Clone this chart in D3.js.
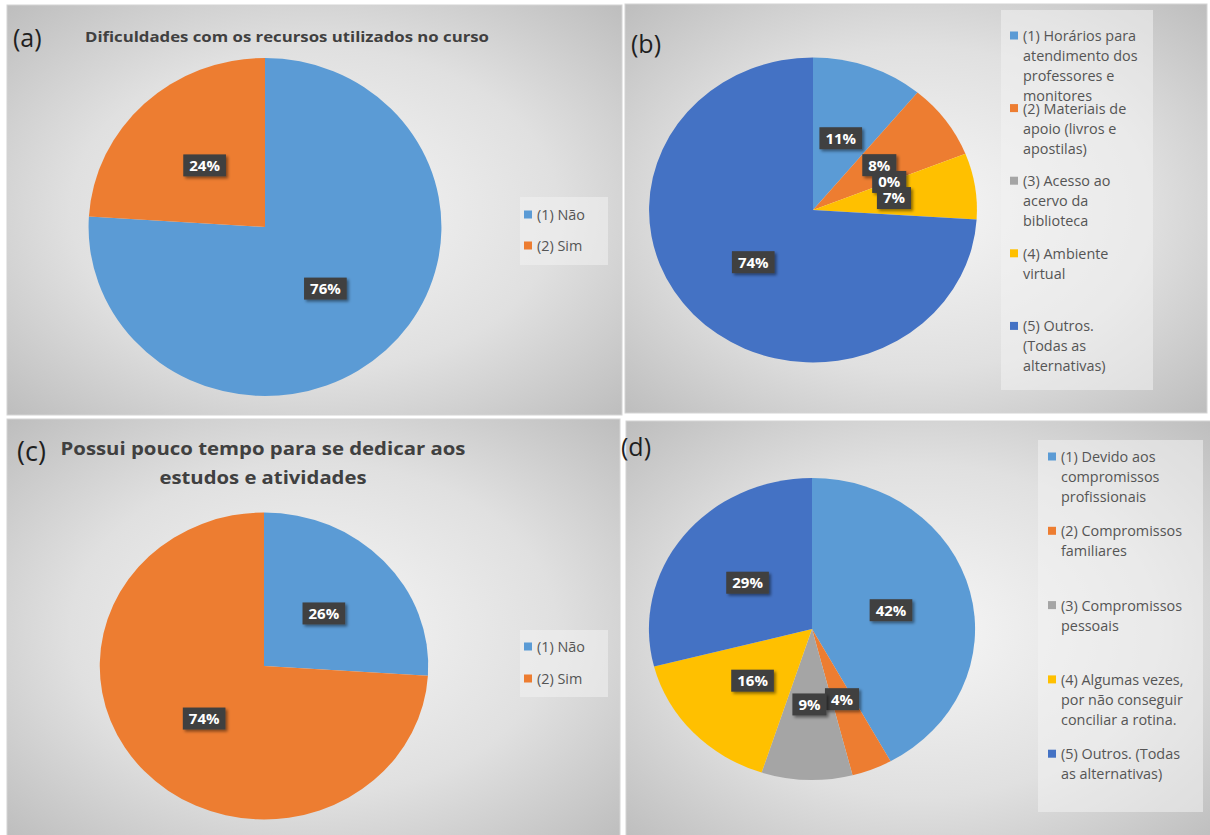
<!DOCTYPE html>
<html>
<head>
<meta charset="utf-8">
<script src="https://cdn.jsdelivr.net/npm/d3@7"></script>
<style>
  body { margin: 0; background: #fff; }
  svg { display: block; }
  text { font-family: "Open Sans", Lato, sans-serif; }
</style>
</head>
<body>
<svg id="chart"></svg>
<script>
// cores padrao do Excel
var cores = ["#5B9BD5", "#ED7D31", "#A5A5A5", "#FFC000", "#4472C4"];

// (a) Dificuldades com os recursos
var catA = ["(1) Não", "(2) Sim"];
var valA = [76, 24];

// (b) quais recursos
var catB = ["(1) Horários para\natendimento dos\nprofessores e\nmonitores",
            "(2) Materiais de\napoio (livros e\napostilas)",
            "(3) Acesso ao\nacervo da\nbiblioteca",
            "(4) Ambiente\nvirtual",
            "(5) Outros.\n(Todas as\nalternativas)"];
var valB = [11, 8, 0, 7, 74];

// (c) pouco tempo
var catC = ["(1) Não", "(2) Sim"];
var valC = [26, 74];

// (d) motivos
var catD = ["(1) Devido aos\ncompromissos\nprofissionais",
            "(2) Compromissos\nfamiliares",
            "(3) Compromissos\npessoais",
            "(4) Algumas vezes,\npor não conseguir\nconciliar a rotina.",
            "(5) Outros. (Todas\nas alternativas)"];
var valD = [42, 4, 9, 16, 29];

var tags = ["(a)", "(b)", "(c)", "(d)"];
var tituloA = "Dificuldades com os recursos utilizados no curso";
var tituloC = ["Possui pouco tempo para se dedicar aos", "estudos e atividades"];

var svg = d3.select("#chart").attr("width", 1210).attr("height", 835);

var defs = svg.append("defs");
var grad = defs.append("radialGradient").attr("id", "fundo")
  .attr("cx", "50%").attr("cy", "50%").attr("r", "72%");
grad.append("stop").attr("offset", "0%").attr("stop-color", "#f6f6f6");
grad.append("stop").attr("offset", "55%").attr("stop-color", "#e0e0e0");
grad.append("stop").attr("offset", "100%").attr("stop-color", "#bcbcbc");

defs.append("filter").attr("id", "sombra")
  .attr("x", "-30%").attr("y", "-30%").attr("width", "160%").attr("height", "160%")
  .append("feDropShadow").attr("dx", 2).attr("dy", 2).attr("stdDeviation", 1.5)
  .attr("flood-color", "#000").attr("flood-opacity", 0.45);

var paineis = [
  { x: 7, y: 5, w: 615, h: 410, cats: catA, vals: valA, cx: 265, cy: 227, r: 169, sx: 1.044,
    leg: { x: 520, y: 197, w: 88, h: 68, first: 215, slot: 31, tx: 537 } },
  { x: 625, y: 4, w: 582, h: 409, cats: catB, vals: valB, cx: 813, cy: 210, r: 152.5, sx: 1.075,
    leg: { x: 1001, y: 10, w: 152, h: 380, first: 36, slot: 72.6, tx: 1023 } },
  { x: 7, y: 419, w: 613, h: 420, cats: catC, vals: valC, cx: 264, cy: 666, r: 153.5, sx: 1.07,
    leg: { x: 520, y: 630, w: 88, h: 67, first: 647, slot: 32, tx: 537 } },
  { x: 626, y: 421, w: 590, h: 420, cats: catD, vals: valD, cx: 812, cy: 629, r: 151, sx: 1.08,
    leg: { x: 1038, y: 440, w: 165, h: 372, first: 457, slot: 74.3, tx: 1061 } }
];

var pie = d3.pie().sort(null).value(function(d) { return d; });

paineis.forEach(function(p, k) {
  svg.append("rect")
    .attr("x", p.x).attr("y", p.y).attr("width", p.w).attr("height", p.h)
    .attr("fill", "url(#fundo)").attr("stroke", "#d4d4d4").attr("stroke-width", 1);

  var arc = d3.arc().innerRadius(0).outerRadius(p.r);
  var arcs = pie(p.vals);

  var g = svg.append("g").attr("transform", "translate(" + p.cx + "," + p.cy + ")");
  g.append("g").attr("transform", "scale(" + p.sx + ",1)")
    .selectAll("path").data(arcs).join("path")
    .attr("d", arc)
    .attr("fill", function(d, i) { return cores[i]; });

  // rotulos de dados
  arcs.forEach(function(d) {
    var c = arc.centroid(d);
    var lb = g.append("g").attr("transform", "translate(" + (c[0] * p.sx) + "," + c[1] + ")");
    var bx = lb.append("rect").attr("fill", "#404040").attr("filter", "url(#sombra)");
    var t = lb.append("text")
      .attr("text-anchor", "middle").attr("dy", "0.36em")
      .attr("fill", "#fff").attr("font-weight", "bold").attr("font-size", 15)
      .text(d.data + "%");
    var w = t.node().getComputedTextLength() + 12;
    bx.attr("x", -w / 2).attr("y", -11).attr("width", w).attr("height", 22);
  });

  // legenda
  var L = p.leg;
  svg.append("rect").attr("x", L.x).attr("y", L.y).attr("width", L.w).attr("height", L.h)
    .attr("fill", "#f2f2f2").attr("fill-opacity", 0.55);
  var ly = d3.scaleLinear().domain([0, 1]).range([L.first, L.first + L.slot]);
  p.cats.forEach(function(cat, i) {
    var y0 = ly(i);
    svg.append("rect").attr("x", L.tx - 13).attr("y", y0 - 4.5)
      .attr("width", 8).attr("height", 8).attr("fill", cores[i]);
    var t = svg.append("text").attr("x", L.tx).attr("y", y0)
      .attr("fill", "#555").attr("font-size", 14.4);
    cat.split("\n").forEach(function(line, j) {
      t.append("tspan").attr("x", L.tx).attr("dy", j === 0 ? "0.35em" : 20).text(line);
    });
  });
});

// titulos e letras
var tagPos = [[13, 38], [631, 44], [17, 452], [621, 447]];
tags.forEach(function(s, i) {
  svg.append("text").attr("x", tagPos[i][0]).attr("y", tagPos[i][1]).attr("dy", "0.35em")
    .attr("font-family", "Lato, sans-serif")
    .attr("font-size", i === 2 ? 27 : 25).attr("fill", "#1f1f1f").text(s);
});

svg.append("text").attr("x", 85).attr("y", 37).attr("dy", "0.35em")
  .attr("font-size", 14.5).attr("font-weight", "bold").attr("fill", "#404040")
  .attr("textLength", 404).attr("lengthAdjust", "spacingAndGlyphs")
  .text(tituloA);

var larguraC = [405, 207];
tituloC.forEach(function(s, i) {
  svg.append("text").attr("x", 263).attr("y", 449 + i * 29).attr("dy", "0.35em")
    .attr("text-anchor", "middle")
    .attr("font-size", 18.5).attr("font-weight", "bold").attr("fill", "#404040")
    .attr("textLength", larguraC[i]).attr("lengthAdjust", "spacingAndGlyphs")
    .text(s);
});
</script>
</body>
</html>
